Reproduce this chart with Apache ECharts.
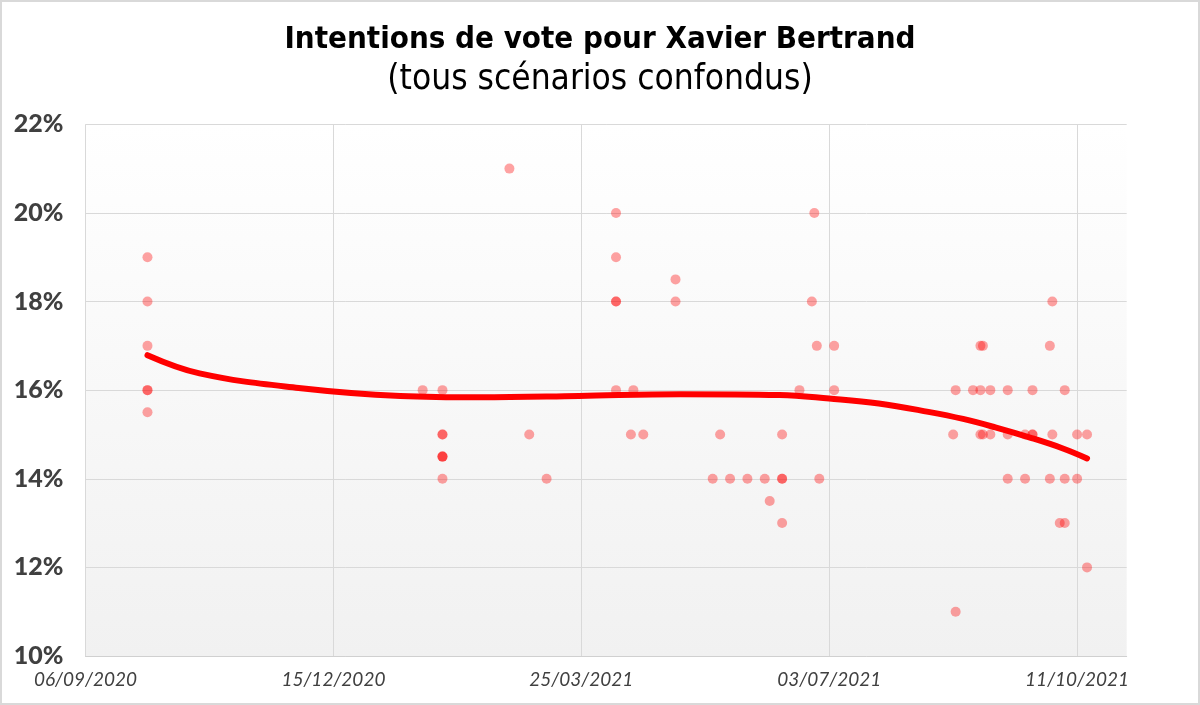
<!DOCTYPE html>
<html lang="fr">
<head>
    <meta charset="UTF-8">
    <title>Intentions de vote pour Xavier Bertrand</title>
    <style>
        html, body { margin: 0; padding: 0; background: #fff; }
        #main { width: 1200px; height: 705px; }
    </style>
    <script src="https://cdn.jsdelivr.net/npm/echarts@6/dist/echarts.min.js"></script>
</head>
<body>
<div id="main"></div>
<script type="text/javascript">
    // sondages : date de terrain et score (%)
    var pollDates = [
        '2020-10-01','2020-10-01','2020-10-01','2020-10-01','2020-10-01','2020-10-01',
        '2021-01-20',
        '2021-01-28','2021-01-28','2021-01-28','2021-01-28','2021-01-28','2021-01-28','2021-01-28',
        '2021-02-24','2021-03-04','2021-03-11',
        '2021-04-08','2021-04-08','2021-04-08','2021-04-08','2021-04-08',
        '2021-04-14','2021-04-15','2021-04-19',
        '2021-05-02','2021-05-02',
        '2021-05-17','2021-05-20','2021-05-24','2021-05-31','2021-06-07','2021-06-09',
        '2021-06-14','2021-06-14','2021-06-14','2021-06-14',
        '2021-06-21','2021-06-26','2021-06-27','2021-06-28','2021-06-29',
        '2021-07-05','2021-07-05',
        '2021-08-22','2021-08-23','2021-08-23','2021-08-30',
        '2021-09-02','2021-09-02','2021-09-02','2021-09-03','2021-09-03',
        '2021-09-06','2021-09-06',
        '2021-09-13','2021-09-13','2021-09-13',
        '2021-09-20','2021-09-20',
        '2021-09-23','2021-09-23','2021-09-23',
        '2021-09-30','2021-09-30','2021-10-01','2021-10-01','2021-10-04',
        '2021-10-06','2021-10-06','2021-10-06',
        '2021-10-11','2021-10-11','2021-10-15','2021-10-15'
    ];
    var pollValues = [
        19, 18, 17, 16, 16, 15.5,
        16,
        16, 15, 15, 14.5, 14.5, 14.5, 14,
        21, 15, 14,
        20, 19, 18, 18, 16,
        15, 16, 15,
        18.5, 18,
        14, 15, 14, 14, 14, 13.5,
        15, 14, 14, 13,
        16, 18, 20, 17, 14,
        17, 16,
        15, 16, 11, 16,
        17, 16, 15, 17, 15,
        16, 15,
        16, 15, 14,
        15, 14,
        16, 15, 15,
        17, 14, 18, 15, 13,
        16, 14, 13,
        15, 14, 15, 12
    ];

    // courbe de tendance
    var trendDates = ['2020-10-01','2020-10-22','2020-12-01','2021-01-11','2021-02-12','2021-03-24',
        '2021-05-04','2021-06-13','2021-07-03','2021-07-23','2021-08-12','2021-08-26',
        '2021-09-08','2021-09-22','2021-10-05','2021-10-15'];
    var trendValues = [16.79, 16.38, 16.05, 15.87, 15.84, 15.87,
        15.91, 15.89, 15.81, 15.70, 15.51, 15.35,
        15.16, 14.93, 14.69, 14.46];

    var xTickDates = ['2020-09-06','2020-12-15','2021-03-25','2021-07-03','2021-10-11'];
    var yTicks = [10, 12, 14, 16, 18, 20, 22];

    var DAY = 86400000;
    function ts(d) { return new Date(d + 'T00:00:00Z').getTime(); }
    function pad(n) { return n < 10 ? '0' + n : '' + n; }

    var xMin = ts('2020-09-06'), xMax = ts('2021-10-31');
    var tickSet = {};
    xTickDates.forEach(function (d) { tickSet[ts(d)] = true; });

    var scatterData = pollDates.map(function (d, i) { return [ts(d), pollValues[i]]; });
    var trendData = trendDates.map(function (d, i) { return [ts(d), trendValues[i]]; });
    // lignes verticales seulement aux dates affichées (pas au bord droit)
    var vLines = xTickDates.map(function (d) { return { xAxis: ts(d) }; });

    var myChart = echarts.init(document.getElementById('main'));

    var option = {
        backgroundColor: '#fff',
        animation: false,
        title: {
            left: 'center',
            top: 19,
            text: 'Intentions de vote pour Xavier Bertrand',
            subtext: '(tous scénarios confondus)',
            itemGap: 7,
            textStyle: {
                fontFamily: 'DejaVu Sans Condensed',
                fontWeight: 'bold',
                fontSize: 31,
                color: '#000'
            },
            subtextStyle: {
                fontFamily: 'DejaVu Sans Condensed',
                fontSize: 35,
                color: '#000'
            }
        },
        graphic: [{
            type: 'rect',
            shape: { x: 1, y: 1, width: 1198, height: 703 },
            style: { fill: 'none', stroke: '#d9d9d9', lineWidth: 2 },
            silent: true
        }],
        grid: {
            left: 85.5,
            right: 73.3,
            top: 124.3,
            bottom: 49,
            show: true,
            borderWidth: 0,
            backgroundColor: new echarts.graphic.LinearGradient(0, 0, 0, 1, [
                { offset: 0, color: '#ffffff' },
                { offset: 1, color: '#f1f1f1' }
            ])
        },
        xAxis: {
            type: 'value',
            min: xMin,
            max: xMax,
            interval: 100 * DAY,
            axisLine: { show: true, lineStyle: { color: '#d0d0d0', width: 1 } },
            axisTick: { show: false },
            splitLine: { show: false },
            axisLabel: {
                margin: 14,
                showMaxLabel: false,
                fontFamily: 'Lato',
                fontStyle: 'italic',
                fontSize: 19,
                color: '#404040',
                formatter: function (v) {
                    if (!tickSet[v]) return '';
                    var d = new Date(v);
                    return pad(d.getUTCDate()) + '/' + pad(d.getUTCMonth() + 1) + '/' + d.getUTCFullYear();
                }
            }
        },
        yAxis: {
            type: 'value',
            min: yTicks[0],
            max: yTicks[yTicks.length - 1],
            interval: 2,
            axisLine: { show: false },
            axisTick: { show: false },
            splitLine: { lineStyle: { color: '#d9d9d9', width: 1 } },
            axisLabel: {
                margin: 22,
                fontFamily: 'Lato',
                fontWeight: 900,
                fontSize: 25,
                color: '#404040',
                formatter: '{value}%'
            }
        },
        series: [{
            name: 'Sondages',
            type: 'scatter',
            symbolSize: 10,
            itemStyle: { color: 'rgba(255,0,0,0.45)' },
            data: scatterData,
            z: 2,
            markLine: {
                silent: true,
                symbol: 'none',
                label: { show: false },
                lineStyle: { color: '#d9d9d9', width: 1, type: 'solid' },
                data: vLines,
                z: 1
            }
        }, {
            name: 'Tendance',
            type: 'line',
            smooth: 0.4,
            showSymbol: false,
            symbol: 'none',
            lineStyle: { color: '#ff0000', width: 6, cap: 'round' },
            data: trendData,
            z: 3
        }]
    };

    myChart.setOption(option);
</script>
</body>
</html>
